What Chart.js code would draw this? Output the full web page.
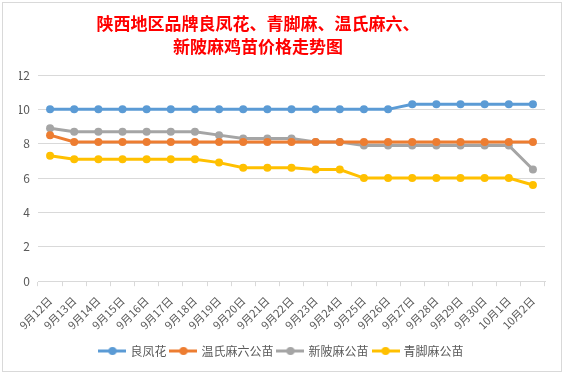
<!DOCTYPE html>
<html>
<head>
<meta charset="utf-8">
<script src="https://cdn.jsdelivr.net/npm/chart.js@4/dist/chart.umd.min.js"></script>
<style>
  body { margin: 0; background: #fff; }
  #box {
    position: absolute; left: 2px; top: 2px;
    width: 558px; height: 368px;
    border: 1px solid #d9d9d9; background: #fff;
  }
  #title {
    position: absolute; left: 0; top: 11px; width: 516px;
    text-align: center; color: #FF0000;
    font-family: 'Noto Sans CJK SC'; font-size: 17px; font-weight: bold;
    line-height: 23px;
  }
</style>
</head>
<body>
<div id="box"><canvas id="myChart"></canvas></div>
<div id="title"></div>
<script>
// 날짜 (x축)
var dates = ["9月12日", "9月13日", "9月14日", "9月15日", "9月16日", "9月17日", "9月18日",
  "9月19日", "9月20日", "9月21日", "9月22日", "9月23日", "9月24日", "9月25日", "9月26日",
  "9月27日", "9月28日", "9月29日", "9月30日", "10月1日", "10月2日"];

// 각 품종 가격
var liangfenghua = [10, 10, 10, 10, 10, 10, 10, 10, 10, 10, 10, 10, 10, 10, 10,
  10.3, 10.3, 10.3, 10.3, 10.3, 10.3];
var wenshi = [8.5, 8.1, 8.1, 8.1, 8.1, 8.1, 8.1, 8.1, 8.1, 8.1, 8.1, 8.1, 8.1, 8.1, 8.1,
  8.1, 8.1, 8.1, 8.1, 8.1, 8.1];
var xinbo = [8.9, 8.7, 8.7, 8.7, 8.7, 8.7, 8.7, 8.5, 8.3, 8.3, 8.3, 8.1, 8.1, 7.9, 7.9,
  7.9, 7.9, 7.9, 7.9, 7.9, 6.5];
var qingjiao = [7.3, 7.1, 7.1, 7.1, 7.1, 7.1, 7.1, 6.9, 6.6, 6.6, 6.6, 6.5, 6.5, 6.0, 6.0,
  6.0, 6.0, 6.0, 6.0, 6.0, 5.6];

var seriesNames = ["良凤花", "温氏麻六公苗", "新陂麻公苗", "青脚麻公苗"];
var seriesColors = ["#5B9BD5", "#ED7D31", "#A5A5A5", "#FFC000"];
var yTicks = [0, 2, 4, 6, 8, 10, 12];

var titleLines = ["陕西地区品牌良凤花、青脚麻、温氏麻六、", "新陂麻鸡苗价格走势图"];

// 제목 (두 줄)
document.getElementById("title").innerHTML = titleLines.join("<br>");

// 범례용 선+점 아이콘
function legendIcon(color) {
  var c = document.createElement("canvas");
  c.width = 28;
  c.height = 10;
  var g = c.getContext("2d");
  g.strokeStyle = color;
  g.lineWidth = 3;
  g.beginPath();
  g.moveTo(0, 5);
  g.lineTo(28, 5);
  g.stroke();
  g.fillStyle = color;
  g.beginPath();
  g.arc(14, 5, 4, 0, Math.PI * 2);
  g.fill();
  return c;
}
var icons = seriesColors.map(legendIcon);

function makeSet(i, values) {
  return {
    label: seriesNames[i],
    data: values,
    borderColor: seriesColors[i],
    backgroundColor: seriesColors[i],
    borderWidth: 3,
    pointRadius: 4,
    pointHoverRadius: 4,
    pointBorderWidth: 0,
    tension: 0
  };
}

var ctx = document.getElementById("myChart");

new Chart(ctx, {
  type: "line",
  data: {
    labels: dates,
    datasets: [
      makeSet(0, liangfenghua),
      makeSet(1, wenshi),
      makeSet(2, xinbo),
      makeSet(3, qingjiao)
    ]
  },
  options: {
    responsive: true,
    maintainAspectRatio: false,
    animation: false,
    layout: { padding: { left: 16, right: 16, top: 72, bottom: 4 } },
    plugins: {
      legend: {
        position: "bottom",
        labels: {
          usePointStyle: true,
          pointStyleWidth: 24,
          boxHeight: 10,
          color: "#595959",
          font: { family: "'Noto Sans CJK SC'", size: 12 },
          padding: 5,
          generateLabels: function (chart) {
            var items = Chart.defaults.plugins.legend.labels.generateLabels(chart);
            items.forEach(function (it, i) { it.pointStyle = icons[i]; });
            return items;
          }
        }
      },
      tooltip: { enabled: false }
    },
    scales: {
      x: {
        offset: true,
        grid: {
          offset: true,
          drawOnChartArea: false,
          drawTicks: true,
          tickLength: 5,
          color: "#d9d9d9"
        },
        border: { color: "#d9d9d9" },
        ticks: {
          color: "#595959",
          font: { family: "'Noto Sans CJK SC'", size: 11 },
          minRotation: 45,
          maxRotation: 45,
          autoSkip: false,
          padding: 8
        }
      },
      y: {
        min: 0,
        max: 12,
        afterBuildTicks: function (axis) {
          axis.ticks = yTicks.map(function (v) { return { value: v }; });
        },
        afterFit: function (axis) {
          axis.width = 19;
        },
        grid: { color: "#d9d9d9", drawTicks: false },
        border: { display: false },
        ticks: {
          color: "#595959",
          font: { family: "'Noto Sans CJK SC'", size: 12 },
          padding: 8
        }
      }
    }
  }
});
</script>
</body>
</html>
